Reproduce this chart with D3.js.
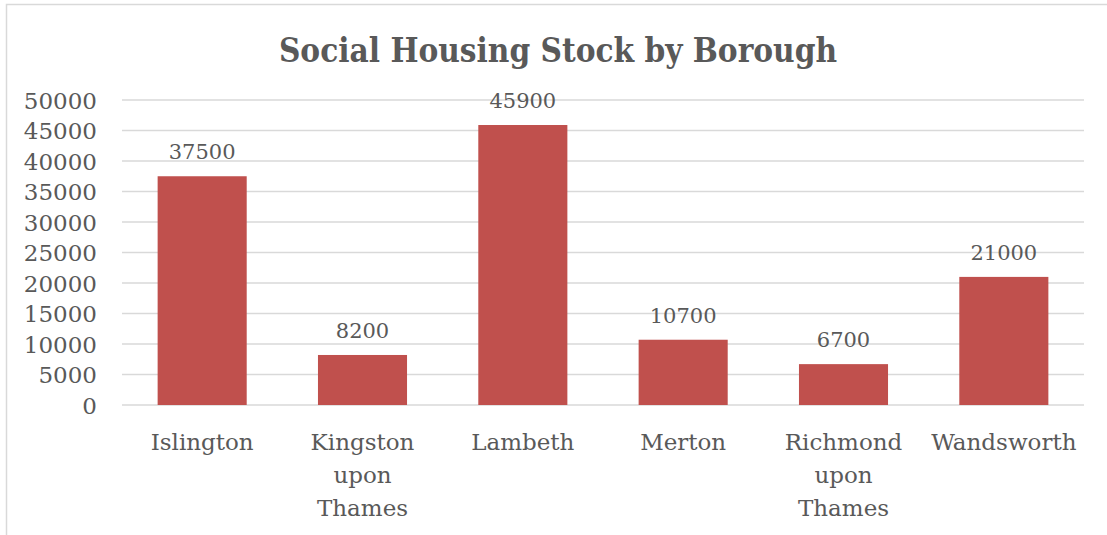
<!DOCTYPE html>
<html><head><meta charset="utf-8">
<script src="https://cdn.jsdelivr.net/npm/d3@7"></script>
<style>
html,body{margin:0;padding:0;background:#fff;}
svg{display:block;}
</style></head>
<body>
<script>
const title = "Social Housing Stock by Borough";
const categories = [["Islington"],["Kingston","upon","Thames"],["Lambeth"],["Merton"],["Richmond","upon","Thames"],["Wandsworth"]];
const values = [37500, 8200, 45900, 10700, 6700, 21000];
const yTicks = [0,5000,10000,15000,20000,25000,30000,35000,40000,45000,50000];

const W = 1107, H = 535;
const margin = {left:122, right:W-1084, top:100, bottom:H-405};
const svg = d3.select("body").append("svg").attr("width", W).attr("height", H);
const serif = "'DejaVu Serif', serif";
const txt = "#595959";

svg.append("rect").attr("x",6.5).attr("y",4.5).attr("width",W+10).attr("height",H+10)
  .attr("fill","none").attr("stroke","#d9d9d9").attr("stroke-width",1.5);

const keys = categories.map(c=>c.join(" "));
const x = d3.scaleBand().domain(keys).range([margin.left, W-margin.right]).paddingInner(0.8/1.8).paddingOuter(0.4/1.8);
const y = d3.scaleLinear().domain([0,50000]).range([H-margin.bottom, margin.top]);

// gridlines
svg.append("g").selectAll("line").data(yTicks).join("line")
  .attr("x1",margin.left).attr("x2",W-margin.right)
  .attr("y1",d=>y(d)).attr("y2",d=>y(d))
  .attr("stroke","#d9d9d9").attr("stroke-width",1.5);

// y axis labels
const yAxis = svg.append("g").attr("transform",`translate(${97},0)`)
  .call(d3.axisLeft(y).tickValues(yTicks).tickSize(0).tickPadding(0).tickFormat(d3.format("d")));
yAxis.select(".domain").remove();
yAxis.selectAll("text").attr("font-family",serif).attr("font-size",23).attr("fill",txt).attr("dy","0.36em");

// bars
svg.append("g").selectAll("rect").data(values).join("rect")
  .attr("x",(d,i)=>x(keys[i])).attr("width",x.bandwidth())
  .attr("y",d=>y(d)).attr("height",d=>y(0)-y(d))
  .attr("fill","#c0504d");

// data labels
svg.append("g").selectAll("text").data(values).join("text")
  .attr("x",(d,i)=>x(keys[i])+x.bandwidth()/2).attr("y",d=>y(d)-17)
  .attr("text-anchor","middle").attr("font-family",serif).attr("font-size",21).attr("fill",txt)
  .text(d=>d);

// category labels
const cat = svg.append("g").selectAll("text").data(categories).join("text")
  .attr("text-anchor","middle").attr("font-family",serif).attr("font-size",23).attr("fill",txt);
cat.each(function(lines,i){
  const t = d3.select(this);
  lines.forEach((l,j)=>{
    t.append("tspan").attr("x",x(keys[i])+x.bandwidth()/2).attr("y",450+j*33).text(l);
  });
});

// title
svg.append("text").attr("x",558).attr("y",62).attr("text-anchor","middle")
  .attr("font-family","'DejaVu Serif Condensed', 'DejaVu Serif', serif").attr("font-stretch","condensed")
  .attr("font-weight","bold").attr("font-size",33).attr("fill",txt).text(title);
</script>
</body></html>
